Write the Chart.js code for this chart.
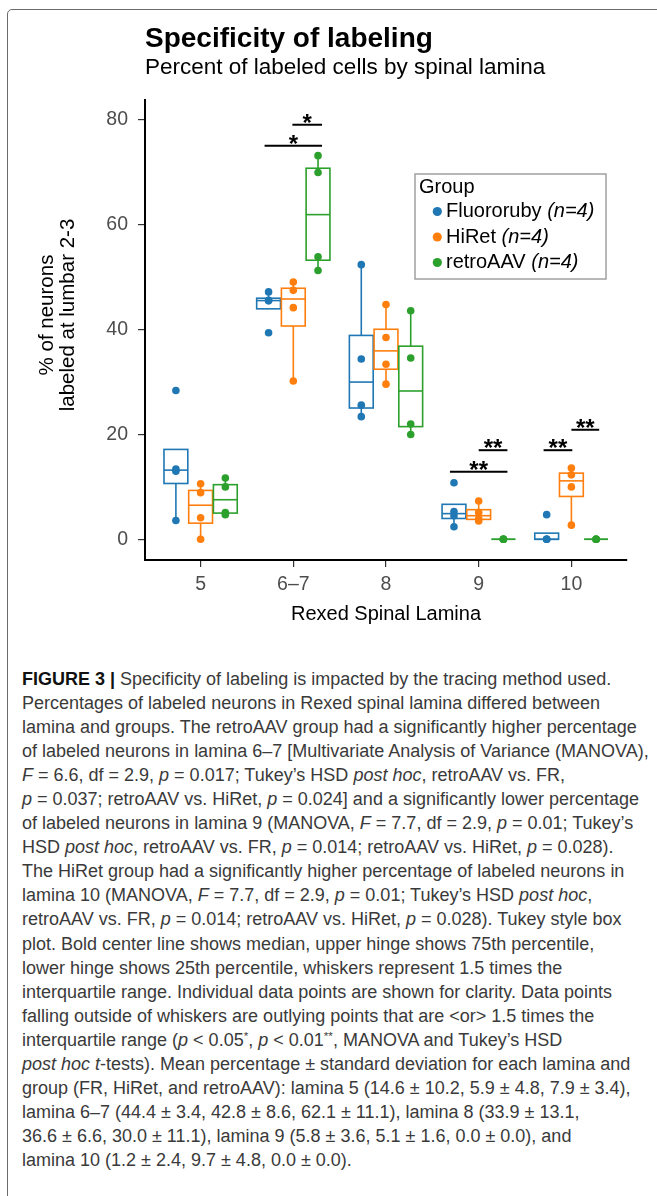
<!DOCTYPE html>
<html>
<head>
<meta charset="utf-8">
<script src="https://cdn.jsdelivr.net/npm/chart.js@4.4.1/dist/chart.umd.min.js"></script>
<style>
  body { margin: 0; background: #fff; width: 657px; height: 1196px; overflow: hidden; position: relative; font-family: "Liberation Sans", Arial, sans-serif; }
  #frame { position: absolute; left: 7px; top: 9px; width: 700px; height: 1300px; border: 1.5px solid #6b6b6b; border-radius: 5px; }
  #wrap { position: absolute; left: 0; top: 0; width: 657px; height: 640px; }
  #caption { position: absolute; left: 22px; top: 667px; font-size: 18px; line-height: 24.05px; color: #3a3a3a; white-space: nowrap; }
  #caption b { color: #111; }
  #caption sup { font-size: 0.65em; line-height: 0; vertical-align: 0.5em; }
</style>
</head>
<body>
<div id="frame"></div>
<div id="wrap"><canvas id="myChart"></canvas></div>
<div id="caption">
<b>FIGURE 3 |</b> Specificity of labeling is impacted by the tracing method used.<br>
Percentages of labeled neurons in Rexed spinal lamina differed between<br>
lamina and groups. The retroAAV group had a significantly higher percentage<br>
of labeled neurons in lamina 6–7 [Multivariate Analysis of Variance (MANOVA),<br>
<i>F</i> = 6.6, df = 2.9, <i>p</i> = 0.017; Tukey’s HSD <i>post hoc</i>, retroAAV vs. FR,<br>
<i>p</i> = 0.037; retroAAV vs. HiRet, <i>p</i> = 0.024] and a significantly lower percentage<br>
of labeled neurons in lamina 9 (MANOVA, <i>F</i> = 7.7, df = 2.9, <i>p</i> = 0.01; Tukey’s<br>
HSD <i>post hoc</i>, retroAAV vs. FR, <i>p</i> = 0.014; retroAAV vs. HiRet, <i>p</i> = 0.028).<br>
The HiRet group had a significantly higher percentage of labeled neurons in<br>
lamina 10 (MANOVA, <i>F</i> = 7.7, df = 2.9, <i>p</i> = 0.01; Tukey’s HSD <i>post hoc</i>,<br>
retroAAV vs. FR, <i>p</i> = 0.014; retroAAV vs. HiRet, <i>p</i> = 0.028). Tukey style box<br>
plot. Bold center line shows median, upper hinge shows 75th percentile,<br>
lower hinge shows 25th percentile, whiskers represent 1.5 times the<br>
interquartile range. Individual data points are shown for clarity. Data points<br>
falling outside of whiskers are outlying points that are &lt;or&gt; 1.5 times the<br>
interquartile range (<i>p</i> &lt; 0.05<sup>*</sup>, <i>p</i> &lt; 0.01<sup>**</sup>, MANOVA and Tukey’s HSD<br>
<i>post hoc t</i>-tests). Mean percentage ± standard deviation for each lamina and<br>
group (FR, HiRet, and retroAAV): lamina 5 (14.6 ± 10.2, 5.9 ± 4.8, 7.9 ± 3.4),<br>
lamina 6–7 (44.4 ± 3.4, 42.8 ± 8.6, 62.1 ± 11.1), lamina 8 (33.9 ± 13.1,<br>
36.6 ± 6.6, 30.0 ± 11.1), lamina 9 (5.8 ± 3.6, 5.1 ± 1.6, 0.0 ± 0.0), and<br>
lamina 10 (1.2 ± 2.4, 9.7 ± 4.8, 0.0 ± 0.0).
</div>
<script>
let laminae = ["5", "6\u20137", "8", "9", "10"];
let groupNames = ["Fluororuby", "HiRet", "retroAAV"];
let groupColors = ["#1f77b4", "#ff7f0e", "#2ca02c"];
// four animals per group, one small array per lamina
let fluororuby = [[28.4, 13.4, 13.0, 3.6], [47.2, 45.6, 45.5, 39.4], [52.4, 34.4, 25.6, 23.4], [10.8, 5.3, 4.5, 2.4], [4.7, 0, 0, 0]];
let hiRet = [[10.6, 8.9, 4.1, 0], [49.1, 47.5, 44.2, 30.2], [44.8, 38.5, 33.4, 29.6], [7.3, 5.1, 3.9, 3.5], [13.6, 12.3, 10.0, 2.7]];
let retroAAV = [[11.7, 10.0, 5.1, 4.7], [73.2, 70.0, 53.9, 51.3], [43.6, 34.6, 22.0, 20.0], [0, 0, 0, 0], [0, 0, 0, 0]];
let yTicks = [0, 20, 40, 60, 80];

// significance bars (x in lamina units, y in percent)
let sigFrom = [1.99, 1.69, 3.69, 4.0, 4.70, 5.0];
let sigTo = [2.31, 2.31, 4.31, 4.31, 5.01, 5.30];
let sigY = [79.1, 75.1, 12.9, 17.0, 17.0, 20.9];
let sigLabel = ["*", "*", "**", "**", "**", "**"];

const FONT = "Liberation Sans";
const series = [fluororuby, hiRet, retroAAV];
const dodge = 0.8 / 3;
const boxWidth = 0.257;

// ggplot style (type 7) quantiles and 1.5 IQR whiskers
function quantile(sorted, p) {
  const h = (sorted.length - 1) * p;
  const lo = Math.floor(h);
  const hi = Math.min(lo + 1, sorted.length - 1);
  return sorted[lo] + (h - lo) * (sorted[hi] - sorted[lo]);
}
function boxStats(values) {
  const s = values.slice().sort((a, b) => a - b);
  const q1 = quantile(s, 0.25), med = quantile(s, 0.5), q3 = quantile(s, 0.75);
  const iqr = q3 - q1;
  const inside = s.filter(v => v >= q1 - 1.5 * iqr && v <= q3 + 1.5 * iqr);
  return { q1: q1, med: med, q3: q3, lo: Math.min(...inside), hi: Math.max(...inside) };
}

const datasets = series.map((s, g) => ({
  label: groupNames[g],
  data: s.flatMap((vals, i) => vals.map(v => ({ x: i + 1 + (g - 1) * dodge, y: v }))),
  backgroundColor: groupColors[g],
  borderWidth: 0,
  pointRadius: 3.8
}));

const boxPlugin = {
  id: "boxes",
  beforeDatasetsDraw(chart) {
    const { ctx, scales: { x, y } } = chart;
    ctx.save();
    ctx.lineWidth = 1.6;
    series.forEach((s, g) => {
      ctx.strokeStyle = groupColors[g];
      s.forEach((vals, i) => {
        const st = boxStats(vals);
        const cx = i + 1 + (g - 1) * dodge;
        const px = x.getPixelForValue(cx);
        const xl = x.getPixelForValue(cx - boxWidth / 2);
        const xr = x.getPixelForValue(cx + boxWidth / 2);
        ctx.beginPath();
        if (st.hi > st.q3) { ctx.moveTo(px, y.getPixelForValue(st.q3)); ctx.lineTo(px, y.getPixelForValue(st.hi)); }
        if (st.lo < st.q1) { ctx.moveTo(px, y.getPixelForValue(st.q1)); ctx.lineTo(px, y.getPixelForValue(st.lo)); }
        ctx.stroke();
        const top = y.getPixelForValue(st.q3), bot = y.getPixelForValue(st.q1);
        ctx.strokeRect(xl, top, xr - xl, bot - top);
        ctx.beginPath();
        ctx.moveTo(xl, y.getPixelForValue(st.med));
        ctx.lineTo(xr, y.getPixelForValue(st.med));
        ctx.stroke();
      });
    });
    ctx.restore();
  },
  afterDraw(chart) {
    const { ctx, scales: { x, y } } = chart;
    ctx.save();
    // titles
    ctx.fillStyle = "#000";
    ctx.textAlign = "left";
    ctx.textBaseline = "alphabetic";
    ctx.font = "bold 28px " + FONT;
    ctx.fillText("Specificity of labeling", 145, 47);
    ctx.font = "22.5px " + FONT;
    ctx.fillText("Percent of labeled cells by spinal lamina", 145, 73.5);

    // y axis title, two lines
    ctx.font = "20.5px " + FONT;
    ctx.textAlign = "center";
    ctx.textBaseline = "middle";
    [["% of neurons", 47.5], ["labeled at lumbar 2-3", 68]].forEach(([t, tx]) => {
      ctx.save();
      ctx.translate(tx, 315);
      ctx.rotate(-Math.PI / 2);
      ctx.fillText(t, 0, 0);
      ctx.restore();
    });

    // significance bars
    ctx.strokeStyle = "#000";
    ctx.lineWidth = 2;
    ctx.font = "bold 24px " + FONT;
    ctx.textBaseline = "alphabetic";
    sigY.forEach((v, k) => {
      const x1 = x.getPixelForValue(sigFrom[k]), x2 = x.getPixelForValue(sigTo[k]);
      const py = y.getPixelForValue(v);
      ctx.beginPath();
      ctx.moveTo(x1, py);
      ctx.lineTo(x2, py);
      ctx.stroke();
      ctx.fillText(sigLabel[k], (x1 + x2) / 2, py + 6);
    });

    // legend
    const lx = 415, ly = 174, lw = 191, lh = 105;
    ctx.fillStyle = "#fff";
    ctx.fillRect(lx, ly, lw, lh);
    ctx.strokeStyle = "#a0a0a0";
    ctx.lineWidth = 1.5;
    ctx.strokeRect(lx, ly, lw, lh);
    ctx.fillStyle = "#000";
    ctx.textAlign = "left";
    ctx.textBaseline = "middle";
    ctx.font = "20px " + FONT;
    ctx.fillText("Group", 419, 187);
    groupNames.forEach((name, g) => {
      const cy = 211.5 + g * 25.5;
      ctx.fillStyle = groupColors[g];
      ctx.beginPath();
      ctx.arc(437.3, cy, 4.6, 0, Math.PI * 2);
      ctx.fill();
      ctx.fillStyle = "#000";
      ctx.font = "20px " + FONT;
      ctx.fillText(name + " ", 446, cy);
      const w = ctx.measureText(name + " ").width;
      ctx.font = "italic 20px " + FONT;
      ctx.fillText("(n=4)", 446 + w, cy);
    });
    ctx.restore();
  }
};

const axisGrid = { display: true, drawOnChartArea: false, drawTicks: true, tickLength: 7, color: "#333", lineWidth: 1.2 };
const axisBorder = { display: true, color: "#000", width: 2 };

new Chart("myChart", {
  type: "scatter",
  data: { datasets: datasets },
  plugins: [boxPlugin],
  options: {
    responsive: true,
    maintainAspectRatio: false,
    animation: false,
    events: [],
    layout: { padding: { left: 85, right: 30, top: 100, bottom: 10 } },
    plugins: { legend: { display: false }, tooltip: { enabled: false } },
    scales: {
      x: {
        type: "linear",
        min: 0.4,
        max: 5.6,
        afterBuildTicks: s => { s.ticks = laminae.map((_, i) => ({ value: i + 1 })); },
        afterFit: s => { s.height = 70; },
        ticks: { callback: v => laminae[v - 1], color: "#4d4d4d", font: { size: 19.5, family: FONT }, padding: 6, autoSkip: false, maxRotation: 0 },
        grid: axisGrid,
        border: axisBorder,
        title: { display: true, text: "Rexed Spinal Lamina", color: "#000", font: { size: 20, family: FONT }, padding: { top: 0, bottom: 4 } }
      },
      y: {
        type: "linear",
        min: -3.95,
        max: 83.82,
        afterBuildTicks: s => { s.ticks = yTicks.map(v => ({ value: v })); },
        afterFit: s => { s.width = 60; },
        ticks: { color: "#4d4d4d", font: { size: 19.5, family: FONT }, padding: 10 },
        grid: axisGrid,
        border: axisBorder
      }
    }
  }
});
</script>
</body>
</html>
